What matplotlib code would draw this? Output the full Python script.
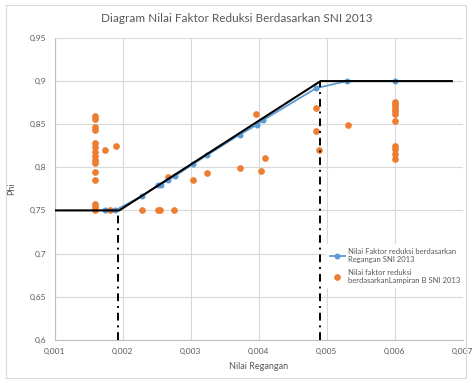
import matplotlib
matplotlib.use("Agg")
import matplotlib.pyplot as plt
from matplotlib.patches import Rectangle
from matplotlib.ticker import FuncFormatter, MultipleLocator

plt.rcParams["font.family"] = ["Lato", "DejaVu Sans"]

# data
blue_x = [0.00174, 0.00189, 0.00229, 0.00252, 0.00256, 0.00266, 0.00277, 0.00304,
          0.00324, 0.00372, 0.00397, 0.00407, 0.00485, 0.0053, 0.0060]
blue_y = [0.750, 0.750, 0.767, 0.779, 0.780, 0.785, 0.790, 0.804,
          0.814, 0.838, 0.849, 0.855, 0.892, 0.900, 0.900]

orange_x = [0.0016] * 15 + [0.00174, 0.0019, 0.00181,
            0.00229, 0.00252, 0.00255, 0.00276,
            0.00266, 0.00304, 0.00324, 0.00372, 0.00396, 0.00404, 0.0041,
            0.00484, 0.00484, 0.00489, 0.00531] + [0.006] * 11
orange_y = [0.860, 0.856, 0.847, 0.843, 0.828, 0.823, 0.818, 0.813, 0.809, 0.805,
            0.794, 0.785, 0.758, 0.754, 0.750,
            0.820, 0.825, 0.750,
            0.750, 0.750, 0.750, 0.750,
            0.789, 0.785, 0.793, 0.799, 0.862, 0.796, 0.811,
            0.869, 0.842, 0.820, 0.849,
            0.876, 0.874, 0.871, 0.868, 0.865, 0.862, 0.854, 0.825, 0.821, 0.816, 0.810]

# batas SNI (garis hitam) dan garis bantu regangan
sni_x = [0.001, 0.00195, 0.00491, 0.00684]
sni_y = [0.75, 0.75, 0.90, 0.90]
eps_ty = 0.00193
eps_tl = 0.0049

GREY = "#595959"
fig = plt.figure(figsize=(4.73, 3.83), dpi=100)
fig.patches.append(Rectangle((6 / 473, 5 / 383), 460 / 473, 373 / 383, transform=fig.transFigure,
                             fill=False, edgecolor="#D9D9D9", linewidth=0.8))
ax = fig.add_axes([0.1156, 0.113, 0.8626, 0.7878])

ax.plot(sni_x, sni_y, color="black", lw=1.5, zorder=4)
dashdot = (0, (4, 2.5, 1, 2.5))
ax.plot([eps_ty, eps_ty], [0.6, 0.75], color="black", lw=1.4, ls=dashdot, zorder=4)
ax.plot([eps_tl, eps_tl], [0.6, 0.9], color="black", lw=1.4, ls=dashdot, zorder=4)
ax.plot(blue_x, blue_y, color="#5B9BD5", lw=1.3, marker="o", ms=3.3, zorder=3,
        label="Nilai Faktor reduksi berdasarkan\nRegangan SNI 2013")
ax.plot(orange_x, orange_y, ls="none", color="#ED7D31", marker="o", ms=3.8, zorder=2,
        label="Nilai faktor reduksi\nberdasarkanLampiran B SNI 2013")

ax.set_xlim(0.001, 0.007)
ax.set_ylim(0.6, 0.95)
ax.xaxis.set_major_locator(MultipleLocator(0.001))
ax.yaxis.set_major_locator(MultipleLocator(0.05))
fmt = FuncFormatter(lambda v, p: f"{v:g}".replace(".", ","))
ax.xaxis.set_major_formatter(fmt)
ax.yaxis.set_major_formatter(fmt)
ax.grid(True, color="#D9D9D9", lw=0.8)
ax.set_axisbelow(True)
for s in ["top", "right"]:
    ax.spines[s].set_visible(False)
for s in ["left", "bottom"]:
    ax.spines[s].set_color("#BFBFBF")
    ax.spines[s].set_linewidth(0.8)
ax.tick_params(length=0, labelsize=6, colors=GREY, pad=6)

ax.set_xlabel("Nilai Regangan", fontsize=6.5, color=GREY, labelpad=5)
ax.set_ylabel("Phi", fontsize=6.5, color=GREY, labelpad=10)
fig.text(0.5, 0.952, "Diagram Nilai Faktor Reduksi Berdasarkan SNI 2013",
         ha="center", va="center", fontsize=8.5, color=GREY)

leg = ax.legend(loc="upper left", bbox_to_anchor=(0.655, 0.33), fontsize=5.5, frameon=True,
                fancybox=False, edgecolor="none", facecolor="white", framealpha=1,
                labelcolor=GREY, handlelength=2.0, handletextpad=0.4, labelspacing=0.8,
                borderpad=0.5)

fig.savefig("out.png", dpi=100)
